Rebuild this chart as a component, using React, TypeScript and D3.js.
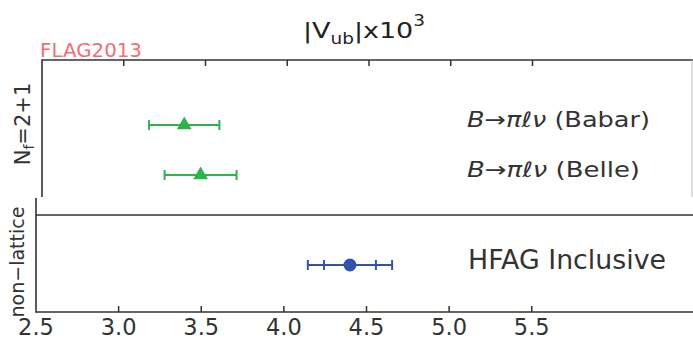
import React from "react";
import * as d3 from "d3";

const W = 693;
const H = 339;

// Data
const latticeLabels = ["B→πℓν (Babar)", "B→πℓν (Belle)"];
const latticeValues = [3.37, 3.47];
const latticeErrors = [0.215, 0.22];

const nonLatticeLabels = ["HFAG Inclusive"];
const nonLatticeValues = [4.4];
const nonLatticeInnerErr = [0.157];
const nonLatticeOuterErr = [0.255];

const tickValues = [2.5, 3.0, 3.5, 4.0, 4.5, 5.0, 5.5];
const tickLabels = ["2.5", "3.0", "3.5", "4.0", "4.5", "5.0", "5.5"];

const GREEN = "#2eb34e";
const BLUE = "#3452ab";
const SPINE = "#333";
const FONT = "'DejaVu Sans', sans-serif";

export default function App() {
  const xTop = d3.scaleLinear().domain([2.5, 6.5]).range([42, 696]);
  const xBot = d3.scaleLinear().domain([2.5, 6.5]).range([36, 697]);
  const yTop = d3.scaleLinear().domain([0, 1]).range([125, 175]);
  const yBot = d3.scaleLinear().domain([0, 1]).range([265, 315]);

  const tri = d3.symbol().type(d3.symbolTriangle).size(95)();
  const cap = 5;
  const labelWidths = [183, 173];

  return (
    <svg width={W} height={H} style={{ display: "block", position: "absolute", left: 0, top: 0, background: "#fff" }}>
      <rect x={0} y={0} width={W} height={H} fill="#fff" />
      {/* Title */}
      <text x={303} y={38} fontFamily={FONT} fontSize={22} fill="#222" textLength={122} lengthAdjust="spacingAndGlyphs">
        |V<tspan fontSize={15} dy={6}>ub</tspan>
        <tspan dy={-6}>|x10</tspan>
        <tspan fontSize={15} dy={-12}>3</tspan>
      </text>
      {/* FLAG2013 */}
      <text x={40} y={57} fontFamily={FONT} fontSize={20} fill="#f04a55" opacity={0.8} textLength={102} lengthAdjust="spacingAndGlyphs">
        FLAG2013
      </text>

      {/* Top panel spines */}
      <line x1={42} x2={W} y1={60} y2={60} stroke={SPINE} strokeWidth={1.6} />
      <line x1={42} x2={42} y1={59.2} y2={197} stroke={SPINE} strokeWidth={1.6} />
      <line x1={692} x2={692} y1={60} y2={197} stroke="#bbb" strokeWidth={1} />
      {tickValues.slice(1).map((v) => (
        <line key={"tt" + v} x1={xTop(v)} x2={xTop(v)} y1={60} y2={66} stroke={SPINE} strokeWidth={1.5} />
      ))}

      {/* Top panel data */}
      {latticeValues.map((v, i) => {
        const y = yTop(i);
        const x0 = xTop(v - latticeErrors[i]);
        const x1 = xTop(v + latticeErrors[i]);
        return (
          <g key={"l" + i}>
            <line x1={x0} x2={x1} y1={y} y2={y} stroke={GREEN} strokeWidth={2} />
            <line x1={x0} x2={x0} y1={y - cap} y2={y + cap} stroke={GREEN} strokeWidth={2} />
            <line x1={x1} x2={x1} y1={y - cap} y2={y + cap} stroke={GREEN} strokeWidth={2} />
            <path d={tri} transform={`translate(${xTop(v)},${y})`} fill={GREEN} />
            <text x={467} y={y + 2} fontFamily={FONT} fontSize={21} fill="#333" textLength={labelWidths[i]} lengthAdjust="spacingAndGlyphs">
              <tspan fontStyle="italic">{latticeLabels[i].split(" ")[0]}</tspan>
              {" " + latticeLabels[i].split(" ").slice(1).join(" ")}
            </text>
          </g>
        );
      })}

      {/* Y labels */}
      <text transform="translate(30,124) rotate(-90)" textAnchor="middle" fontFamily={FONT} fontSize={21} fill="#333">
        N<tspan fontSize={14} dy={4}>f</tspan>
        <tspan dy={-4}>=2+1</tspan>
      </text>
      <text transform="translate(24,262) rotate(-90)" textAnchor="middle" fontFamily={FONT} fontSize={19} fill="#333">
        non−lattice
      </text>

      {/* Lower panel spines */}
      <line x1={36} x2={W} y1={215} y2={215} stroke={SPINE} strokeWidth={1.6} />
      <line x1={36} x2={W} y1={312} y2={312} stroke={SPINE} strokeWidth={1.6} />
      <line x1={36} x2={36} y1={198} y2={312.8} stroke={SPINE} strokeWidth={1.6} />
      {tickValues.slice(1).map((v) => (
        <line key={"bt" + v} x1={xBot(v)} x2={xBot(v)} y1={306} y2={312} stroke={SPINE} strokeWidth={1.5} />
      ))}
      {tickValues.map((v, i) => (
        <text key={"bl" + v} x={xBot(v)} y={335} textAnchor="middle" fontFamily={FONT} fontSize={22.5} fill="#333">
          {tickLabels[i]}
        </text>
      ))}

      {/* Lower panel data */}
      {nonLatticeValues.map((v, i) => {
        const y = yBot(i);
        const o0 = xBot(v - nonLatticeOuterErr[i]);
        const o1 = xBot(v + nonLatticeOuterErr[i]);
        const i0 = xBot(v - nonLatticeInnerErr[i]);
        const i1 = xBot(v + nonLatticeInnerErr[i]);
        return (
          <g key={"n" + i}>
            <line x1={o0} x2={o1} y1={y} y2={y} stroke={BLUE} strokeWidth={2} />
            {[o0, o1, i0, i1].map((xx, k) => (
              <line key={k} x1={xx} x2={xx} y1={y - cap} y2={y + cap} stroke={BLUE} strokeWidth={2} />
            ))}
            <circle cx={xBot(v)} cy={y} r={6.5} fill={BLUE} />
            <text x={468} y={y + 4} fontFamily={FONT} fontSize={26} fill="#333" textLength={198} lengthAdjust="spacingAndGlyphs">
              {nonLatticeLabels[i]}
            </text>
          </g>
        );
      })}
    </svg>
  );
}
